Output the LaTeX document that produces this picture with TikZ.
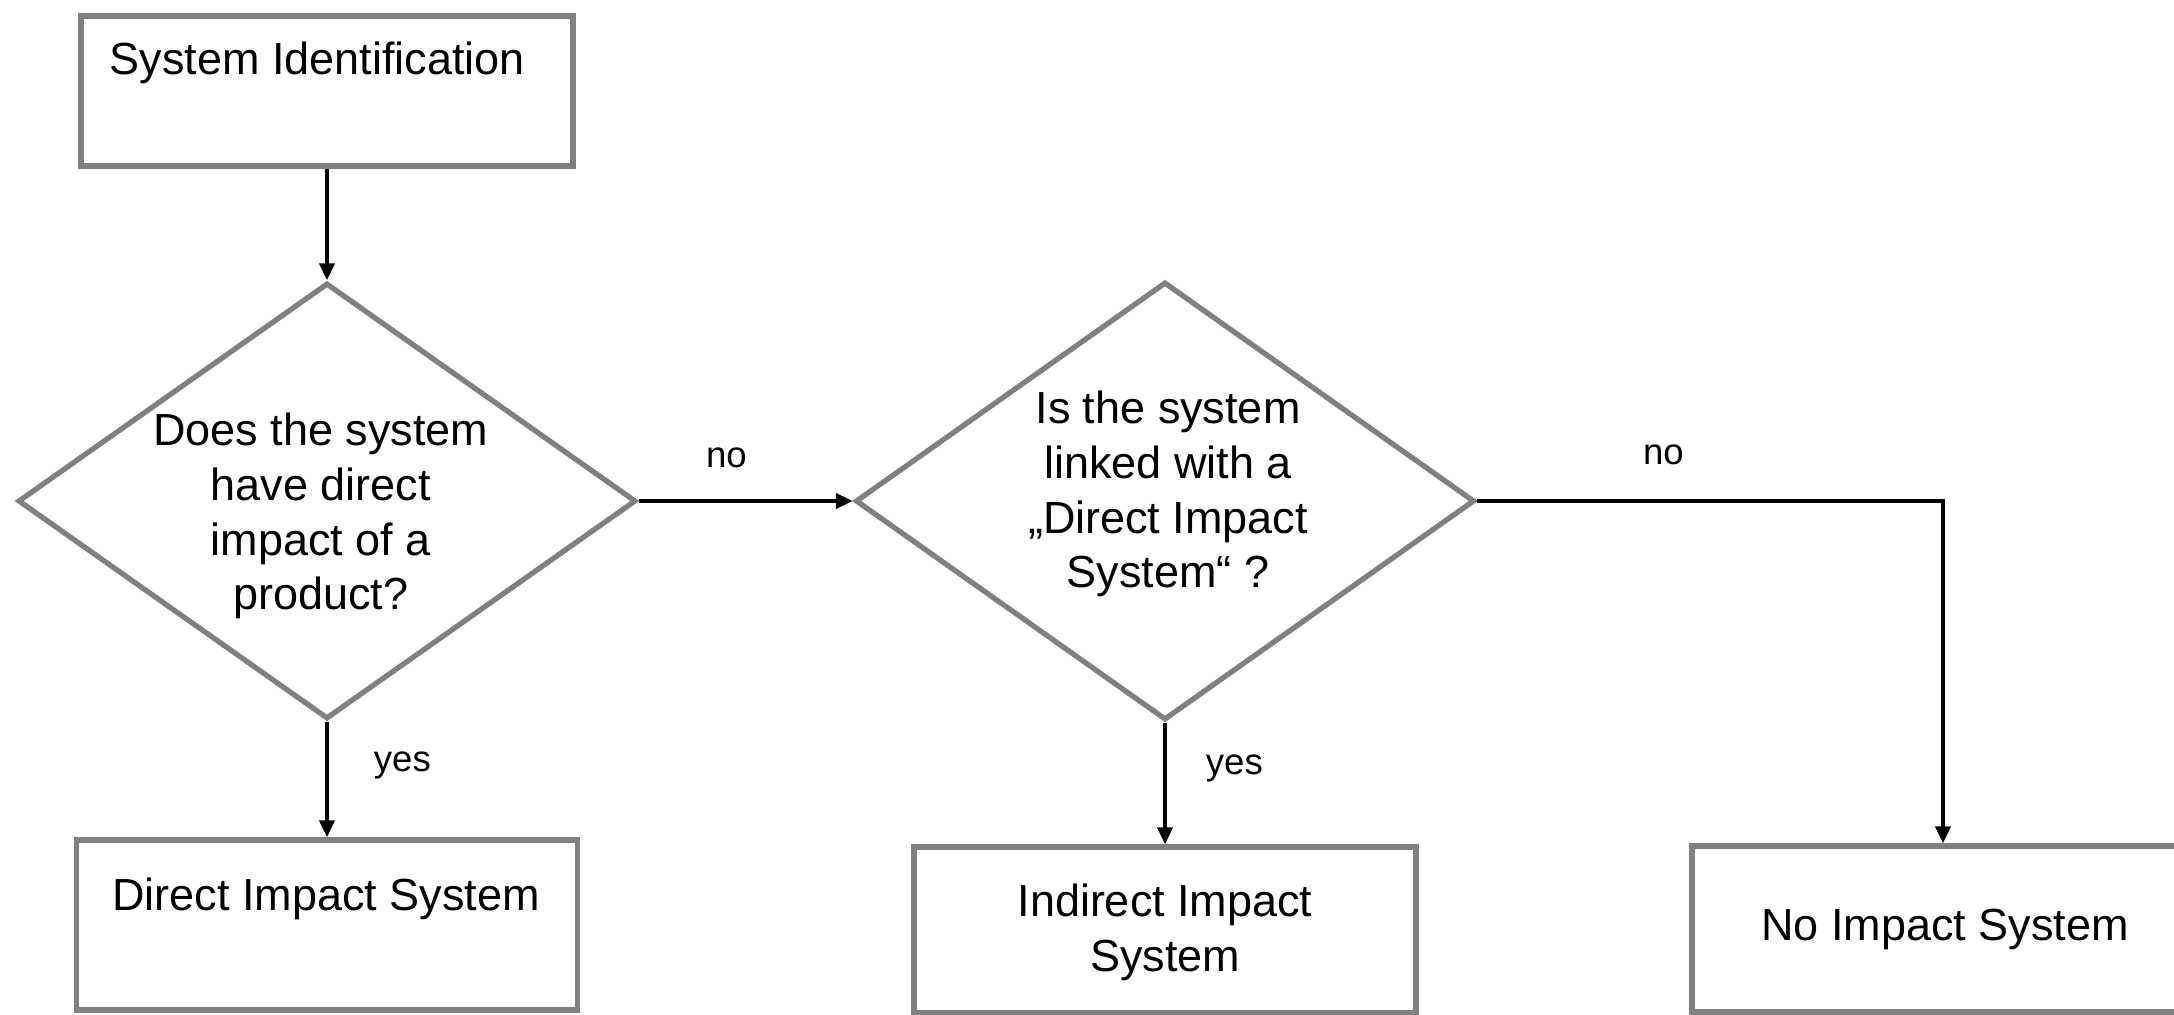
\documentclass[tikz,border=0pt]{standalone}
\usepackage{fontspec}
\setmainfont{Liberation Sans}
\usetikzlibrary{shapes.geometric,arrows.meta}
\definecolor{boxgray}{RGB}{128,128,128}
\tikzset{
  box/.style={draw=boxgray, line width=1.5pt, inner sep=0pt},
  ask/.style={diamond, draw=boxgray, line width=1.5pt, inner sep=0pt},
  txt/.style={font=\fontsize{12.8}{15.6}\selectfont, align=center, inner sep=0pt},
  lbl/.style={font=\fontsize{10.4}{12.5}\selectfont, inner sep=0pt},
  arr/.style={line width=1.1pt, -{Triangle[length=1.7mm,width=1.5mm]}}
}

\begin{document}
\begin{tikzpicture}[x=0.1mm, y=-0.1mm]
   \useasboundingbox (0,0) rectangle (2174,1015);
   \clip (0,0) rectangle (2174,1015);
   \node[box, minimum width=49.2mm, minimum height=15mm] (sysid) at (327,91) {};
   \node[ask, minimum width=61.8mm, minimum height=43.6mm] (q1) at (327,501) {};
   \node[ask, minimum width=61.9mm, minimum height=43.8mm] (q2) at (1165,501) {};
   \node[box, minimum width=50.1mm, minimum height=17mm] (direct) at (327,925) {};
   \node[box, minimum width=50.2mm, minimum height=16.6mm] (indirect) at (1165,930) {};
   \node[box, minimum width=50.2mm, minimum height=16.6mm] (noimp) at (1943,929) {};

   \node[txt, anchor=base west] (sysidt) at (109,74) {System Identification};
   \node[txt] (q1t) at (321,516) {Does the system\\have direct\\impact of a\\product?};
   \node[txt] (q2t) at (1168,494) {Is the system\\linked with a\\„Direct Impact\\System“ ?};
   \node[txt, anchor=base] (directt) at (326,910) {Direct Impact System};
   \node[txt] (indirectt) at (1165,932) {Indirect Impact\\System};
   \node[txt, anchor=base] (noimpt) at (1945,940) {No Impact System};

   \draw[arr] (sysid) -- (q1);
   \draw[arr] (q1) -- node[lbl, pos=0.41, anchor=base, yshift=3.4mm] (no1) {no} (q2);
   \draw[arr] (q2.east) -| node[lbl, pos=0.2, anchor=base, yshift=3.7mm] (no2) {no} (noimp.north);
   \draw[arr] (q1) -- node[lbl, pos=0.43, anchor=base west, xshift=4.5mm] (yes1) {yes} (direct);
   \draw[arr] (q2) -- node[lbl, pos=0.43, anchor=base west, xshift=3.9mm] (yes2) {yes} (indirect);
 \end{tikzpicture}
\end{document}
